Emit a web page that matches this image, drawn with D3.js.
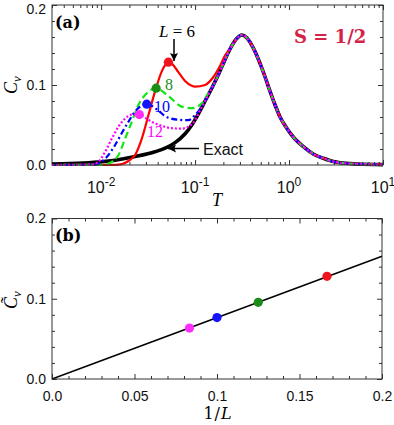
<!DOCTYPE html>
<html>
<head>
<meta charset="utf-8">
<script src="https://cdn.jsdelivr.net/npm/d3@7"></script>
<style>
body { margin: 0; background: #fff; }
svg { display: block; }
</style>
</head>
<body>
<svg width="394" height="425"></svg>
<script>
// ---- data ----
const sizesL = [6, 8, 10, 12];
const invL = [1 / 6, 1 / 8, 1 / 10, 1 / 12];
const peakT = [0.052, 0.0385, 0.0306, 0.0255];
const peakCv = [0.1285, 0.096, 0.076, 0.063];
const peakCvB = [0.128, 0.0955, 0.0765, 0.0635];
const fitLine = [[0, 0], [0.2, 0.153]];

// exact curve, [T, Cv]
const exactCv = [[0.003,0.0013],[0.00644,0.0025],[0.01,0.004],[0.0141,0.006],[0.023,0.0105],[0.0375,0.0165],
  [0.048,0.021],[0.0613,0.028],[0.0783,0.039],[0.0922,0.050],[0.1084,0.064],[0.1277,0.080],[0.1506,0.096],
  [0.1787,0.114],[0.2086,0.132],[0.2357,0.145],[0.2778,0.158],[0.314,0.1625],[0.3548,0.159],
  [0.417,0.146],[0.491,0.127],[0.556,0.110],[0.628,0.092],[0.710,0.075],[0.802,0.060],[0.946,0.046],
  [1.11,0.035],[1.42,0.023],[1.81,0.0138],[2.32,0.0084],[2.96,0.0043],[3.49,0.0028],[5.25,0.0013],[10,0.0005]];

const cvL6 = [[0.003,0],[0.0141,0.0002],[0.0166,0.001],[0.0195,0.005],[0.023,0.0125],[0.0271,0.033],
  [0.0319,0.0625],[0.0375,0.092],[0.0442,0.117],[0.052,0.1285],[0.0569,0.1265],[0.0664,0.116],[0.0783,0.105],
  [0.092,0.099],[0.1,0.098],[0.1277,0.100],[0.1566,0.110],[0.1845,0.124],[0.2086,0.137]];
const cvL8 = [[0.003,0],[0.0104,0.0003],[0.013,0.004],[0.0153,0.0125],[0.018,0.033],[0.0212,0.054],
  [0.0249,0.075],[0.0294,0.0875],[0.0385,0.096],[0.052,0.086],[0.0722,0.073],[0.0922,0.071],[0.1178,0.077],
  [0.1385,0.090],[0.163,0.104]];
const cvL10 = [[0.003,0],[0.0085,0.0005],[0.0101,0.004],[0.01197,0.0125],[0.0141,0.025],[0.0166,0.040],
  [0.0195,0.054],[0.023,0.067],[0.0306,0.076],[0.0407,0.068],[0.048,0.061],[0.0664,0.0565],[0.0849,0.056],
  [0.1,0.0625],[0.1178,0.073]];
const cvL12 = [[0.003,0],[0.0078,0.0005],[0.00936,0.004],[0.01104,0.0166],[0.013,0.033],[0.0153,0.048],
  [0.018,0.058],[0.0212,0.063],[0.0255,0.0625],[0.0346,0.054],[0.0442,0.049],[0.0565,0.046],[0.0722,0.0455],
  [0.0849,0.048],[0.1,0.056],[0.1084,0.064]];

const logMajor = [0.01, 0.1, 1, 10];
const logExp = ["-2", "-1", "0", "1"];

// ---- styles ----
const lineColor = ["#ff0000", "#14e614", "#0000ff", "#ff00ff"];
const dotColor = ["#f0141e", "#1a8c1a", "#1414ff", "#ff2eff"];
const dashes = [null, "7,4", "6,3,2,3", "2,2"];
const SANS = "'Liberation Sans', Arial, sans-serif";
const SERIF = "'Liberation Serif', 'Times New Roman', serif";
const DSERIF = "'DejaVu Serif', serif";

const svg = d3.select("svg");

// scales
const xT = d3.scaleLog().domain([0.003, 10]).range([52, 383]);
const yT = d3.scaleLinear().domain([0, 0.2]).range([165, 5]);
const xB = d3.scaleLinear().domain([0, 0.2]).range([52, 382]);
const yB = d3.scaleLinear().domain([0, 0.2]).range([379, 218.5]);

const cvTicks = d3.range(0, 0.2001, 0.02);
const isTenth = d => Math.abs(d * 10 - Math.round(d * 10)) < 1e-6;
const isDecade = d => Math.abs(Math.log10(d) - Math.round(Math.log10(d))) < 1e-6;
const isTwentieth = d => Math.abs(d * 20 - Math.round(d * 20)) < 1e-6;

// axis with inward ticks, longer major ticks
function addAxis(axisFn, scale, vals, major, tr, fmt, pad) {
  const g = svg.append("g").attr("transform", tr)
    .call(axisFn(scale).tickValues(vals).tickSizeInner(-3).tickSizeOuter(0)
      .tickPadding(pad || 6).tickFormat(fmt || (() => "")));
  g.select(".domain").remove();
  g.attr("font-family", SANS).attr("font-size", 14);
  g.selectAll(".tick line").attr("stroke", "#333")
    .each(function (d) {
      if (!major(d)) return;
      const l = d3.select(this);
      ["x2", "y2"].forEach(a => { const v = +l.attr(a); if (v) l.attr(a, v * 5 / 3); });
    });
  g.selectAll(".tick text").attr("fill", "#111");
  return g;
}

function frame(sx, sy) {
  const [x0, x1] = sx.range(), [y0, y1] = sy.range();
  svg.append("rect").attr("x", x0).attr("y", y1).attr("width", x1 - x0).attr("height", y0 - y1)
    .attr("fill", "none").attr("stroke", "#333").attr("stroke-width", 1);
}

// ===== panel (a) =====
const logVals = xT.ticks();
addAxis(d3.axisBottom, xT, logVals, isDecade, "translate(0,165)");
addAxis(d3.axisTop, xT, logVals, isDecade, "translate(0,5)");
const yAxA = addAxis(d3.axisLeft, yT, cvTicks, isTenth, "translate(52,0)", d => isTenth(d) ? d3.format(".1f")(d) : "");
yAxA.selectAll(".tick text").filter(d => d > 0.19).attr("dy", "0.62em");
addAxis(d3.axisRight, yT, cvTicks, isTenth, "translate(383,0)");

// log labels 10^n
const lbl = svg.append("g").attr("font-family", SANS).attr("fill", "#111");
logMajor.forEach((v, i) => {
  const t = lbl.append("text").attr("x", xT(v)).attr("y", 193).attr("text-anchor", "middle");
  t.append("tspan").attr("font-size", 16).text("10");
  t.append("tspan").attr("font-size", 12).attr("dy", -7).text(logExp[i]);
});

svg.append("clipPath").attr("id", "clipA").append("rect")
  .attr("x", 52).attr("y", 5).attr("width", 331).attr("height", 162);

const lineA = d3.line().x(d => xT(d[0])).y(d => yT(d[1])).curve(d3.curveMonotoneX);
const withTail = pts => pts.concat(exactCv.filter(d => d[0] > pts[pts.length - 1][0] + 1e-9));

const plotA = svg.append("g").attr("clip-path", "url(#clipA)");
plotA.append("path").datum(exactCv).attr("d", lineA)
  .attr("fill", "none").attr("stroke", "#000").attr("stroke-width", 3.6);

[cvL6, cvL8, cvL10, cvL12].forEach((s, i) => {
  plotA.append("path").datum(withTail(s)).attr("d", lineA)
    .attr("fill", "none").attr("stroke", lineColor[i]).attr("stroke-width", 2.2)
    .attr("stroke-dasharray", dashes[i]);
});

plotA.selectAll(".pk").data(sizesL).enter().append("circle")
  .attr("cx", (d, i) => xT(peakT[i])).attr("cy", (d, i) => yT(peakCv[i])).attr("r", 4.6)
  .attr("fill", (d, i) => dotColor[i]);

frame(xT, yT);

// annotations
svg.append("defs").append("marker").attr("id", "ah").attr("viewBox", "0 0 10 10")
  .attr("refX", 10).attr("refY", 5).attr("markerWidth", 10).attr("markerHeight", 8)
  .attr("markerUnits", "userSpaceOnUse").attr("orient", "auto")
  .append("path").attr("d", "M0,0L10,5L0,10L2,5Z").attr("fill", "#000");

svg.append("line").attr("x1", 174).attr("y1", 39).attr("x2", 174).attr("y2", 61)
  .attr("stroke", "#000").attr("stroke-width", 1.5).attr("marker-end", "url(#ah)");
svg.append("line").attr("x1", 199).attr("y1", 148.5).attr("x2", 168).attr("y2", 148.5)
  .attr("stroke", "#000").attr("stroke-width", 1.5).attr("marker-end", "url(#ah)");

const tL = svg.append("text").attr("x", 159).attr("y", 37).attr("font-family", SERIF).attr("font-size", 17);
tL.append("tspan").attr("font-style", "italic").text("L");
tL.append("tspan").text(" = 6");

svg.append("text").attr("x", 165).attr("y", 90).attr("font-family", SERIF).attr("font-size", 16)
  .attr("fill", dotColor[1]).text("8");
svg.append("text").attr("x", 154).attr("y", 112).attr("font-family", SERIF).attr("font-size", 16)
  .attr("fill", "#0000ff").text("10");
svg.append("text").attr("x", 147).attr("y", 137).attr("font-family", SERIF).attr("font-size", 16)
  .attr("fill", "#ff00ff").text("12");

svg.append("text").attr("x", 203).attr("y", 155).attr("font-family", SANS).attr("font-size", 16)
  .attr("fill", "#111").text("Exact");

svg.append("text").attr("x", 55).attr("y", 28).attr("font-family", DSERIF).attr("font-weight", "bold")
  .attr("font-size", 16).text("(a)");
svg.append("text").attr("x", 294).attr("y", 43).attr("font-family", DSERIF).attr("font-weight", "bold")
  .attr("font-size", 18).attr("fill", "#d42346").text("S = 1/2");

svg.append("text").attr("x", 217).attr("y", 206).attr("text-anchor", "middle").attr("font-family", SERIF)
  .attr("font-style", "italic").attr("font-size", 18).text("T");

const cvA = svg.append("text").attr("transform", "translate(17,85) rotate(-90)").attr("text-anchor", "middle")
  .attr("font-family", SERIF).attr("font-style", "italic").attr("font-size", 18);
cvA.append("tspan").text("C");
cvA.append("tspan").attr("font-size", 13).attr("dy", 4).text("v");

// ===== panel (b) =====
const linTicks = d3.range(0, 0.2001, 0.01);
addAxis(d3.axisBottom, xB, linTicks, isTwentieth, "translate(0,379)",
  d => isTwentieth(d) ? (d === 0 ? "0.0" : String(+d.toFixed(2))) : "", 12);
addAxis(d3.axisTop, xB, linTicks, isTwentieth, "translate(0,218.5)");
addAxis(d3.axisLeft, yB, cvTicks, isTenth, "translate(52,0)", d => isTenth(d) ? d3.format(".1f")(d) : "");
addAxis(d3.axisRight, yB, cvTicks, isTenth, "translate(382,0)");

const lineB = d3.line().x(d => xB(d[0])).y(d => yB(d[1]));
svg.append("path").datum(fitLine).attr("d", lineB)
  .attr("fill", "none").attr("stroke", "#000").attr("stroke-width", 1.5);

svg.selectAll(".pb").data(sizesL).enter().append("circle")
  .attr("cx", (d, i) => xB(invL[i])).attr("cy", (d, i) => yB(peakCvB[i])).attr("r", 4.6)
  .attr("fill", (d, i) => dotColor[i]);

frame(xB, yB);

svg.append("text").attr("x", 55).attr("y", 241).attr("font-family", DSERIF).attr("font-weight", "bold")
  .attr("font-size", 16).text("(b)");

const tx = svg.append("text").attr("x", 218).attr("y", 419).attr("text-anchor", "middle")
  .attr("font-family", DSERIF).attr("font-size", 16).attr("letter-spacing", 1);
tx.append("tspan").text("1/");
tx.append("tspan").attr("font-style", "italic").text("L");

const cvB = svg.append("text").attr("transform", "translate(17,300) rotate(-90)").attr("text-anchor", "middle")
  .attr("font-family", SERIF).attr("font-style", "italic").attr("font-size", 18);
cvB.append("tspan").text("C\u0303");
cvB.append("tspan").attr("font-size", 13).attr("dy", 4).text("v");
</script>
</body>
</html>
